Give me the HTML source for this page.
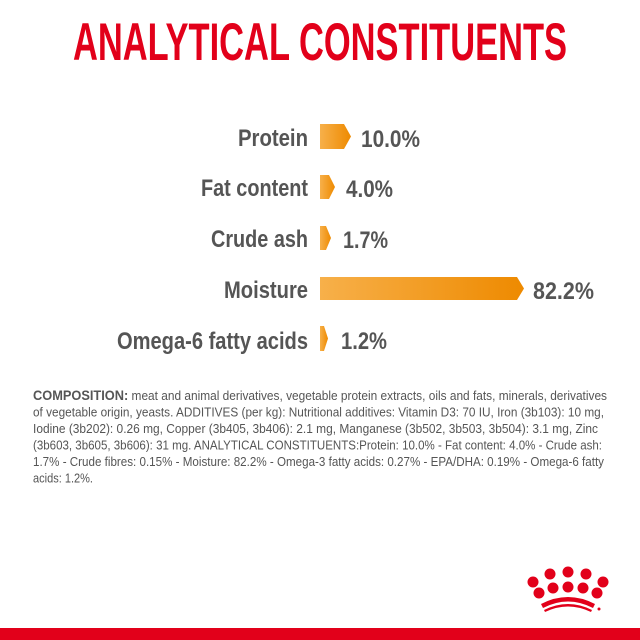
<!DOCTYPE html>
<html><head><meta charset="utf-8"><style>
html,body{margin:0;padding:0;background:#fff;width:640px;height:640px;overflow:hidden}
svg{display:block}
</style></head><body>
<svg width="640" height="640" viewBox="0 0 640 640" xmlns="http://www.w3.org/2000/svg">
<defs>
<linearGradient id="g" x1="0" x2="1" y1="0" y2="0">
<stop offset="0" stop-color="#f7b04a"/><stop offset="1" stop-color="#ee8a00"/>
</linearGradient>
</defs>
<rect width="640" height="640" fill="#fff"/>
<text x="73" y="60" font-family="Liberation Sans, sans-serif" font-weight="bold" font-size="53" fill="#e2001a" textLength="494" lengthAdjust="spacingAndGlyphs">ANALYTICAL CONSTITUENTS</text>

<g font-family="Liberation Sans, sans-serif" font-weight="bold" font-size="24" fill="#555" text-anchor="end">
<text x="308" y="146" textLength="70" lengthAdjust="spacingAndGlyphs">Protein</text>
<text x="308" y="196" textLength="107" lengthAdjust="spacingAndGlyphs">Fat content</text>
<text x="308" y="247" textLength="97" lengthAdjust="spacingAndGlyphs">Crude ash</text>
<text x="308" y="298" textLength="84" lengthAdjust="spacingAndGlyphs">Moisture</text>
<text x="308" y="349" textLength="191" lengthAdjust="spacingAndGlyphs">Omega-6 fatty acids</text>
</g>

<polygon points="320,124 344,124 351,136.5 344,149 320,149" fill="url(#g)"/>
<polygon points="320,175 329,175 335,187 329,199 320,199" fill="url(#g)"/>
<polygon points="320,226 326,226 331,238 326,250 320,250" fill="url(#g)"/>
<polygon points="320,277 517,277 524,288.5 517,300 320,300" fill="url(#g)"/>
<polygon points="320,326 324,326 328,338.5 324,351 320,351" fill="url(#g)"/>

<g font-family="Liberation Sans, sans-serif" font-weight="bold" font-size="24" fill="#555">
<text x="361" y="147" textLength="59" lengthAdjust="spacingAndGlyphs">10.0%</text>
<text x="346" y="197" textLength="47" lengthAdjust="spacingAndGlyphs">4.0%</text>
<text x="343" y="248" textLength="45" lengthAdjust="spacingAndGlyphs">1.7%</text>
<text x="533" y="299" textLength="61" lengthAdjust="spacingAndGlyphs">82.2%</text>
<text x="341" y="349" textLength="46" lengthAdjust="spacingAndGlyphs">1.2%</text>
</g>

<g font-family="Liberation Sans, sans-serif" font-size="13" fill="#555">
<text x="33" y="400" textLength="574" lengthAdjust="spacingAndGlyphs"><tspan font-weight="bold" font-size="14">COMPOSITION:</tspan> meat and animal derivatives, vegetable protein extracts, oils and fats, minerals, derivatives</text>
<text x="33" y="416.5" textLength="571" lengthAdjust="spacingAndGlyphs">of vegetable origin, yeasts. ADDITIVES (per kg): Nutritional additives: Vitamin D3: 70 IU, Iron (3b103): 10 mg,</text>
<text x="33" y="433" textLength="565" lengthAdjust="spacingAndGlyphs">Iodine (3b202): 0.26 mg, Copper (3b405, 3b406): 2.1 mg, Manganese (3b502, 3b503, 3b504): 3.1 mg, Zinc</text>
<text x="33" y="449.5" textLength="569" lengthAdjust="spacingAndGlyphs">(3b603, 3b605, 3b606): 31 mg. ANALYTICAL CONSTITUENTS:Protein: 10.0% - Fat content: 4.0% - Crude ash:</text>
<text x="33" y="466" textLength="571" lengthAdjust="spacingAndGlyphs">1.7% - Crude fibres: 0.15% - Moisture: 82.2% - Omega-3 fatty acids: 0.27% - EPA/DHA: 0.19% - Omega-6 fatty</text>
<text x="33" y="482.5" textLength="60" lengthAdjust="spacingAndGlyphs">acids: 1.2%.</text>
</g>

<g fill="#e2001a">
<circle cx="533" cy="582" r="5.5"/><circle cx="550" cy="574" r="5.5"/><circle cx="568" cy="572" r="5.5"/><circle cx="586" cy="574" r="5.5"/><circle cx="603" cy="582" r="5.5"/>
<circle cx="539" cy="593" r="5.5"/><circle cx="553" cy="588" r="5.5"/><circle cx="568" cy="587" r="5.5"/><circle cx="583" cy="588" r="5.5"/><circle cx="597" cy="593" r="5.5"/>
<path d="M541,604 Q568,590 595,604 L593,608 Q568,595 543,608 Z"/>
<path d="M544,610 Q568,598 592,610 L591,612 Q568,601 545,612 Z"/>
<circle cx="599" cy="609" r="1.5"/>
<rect x="0" y="628" width="640" height="12"/>
</g>
</svg>
</body></html>
